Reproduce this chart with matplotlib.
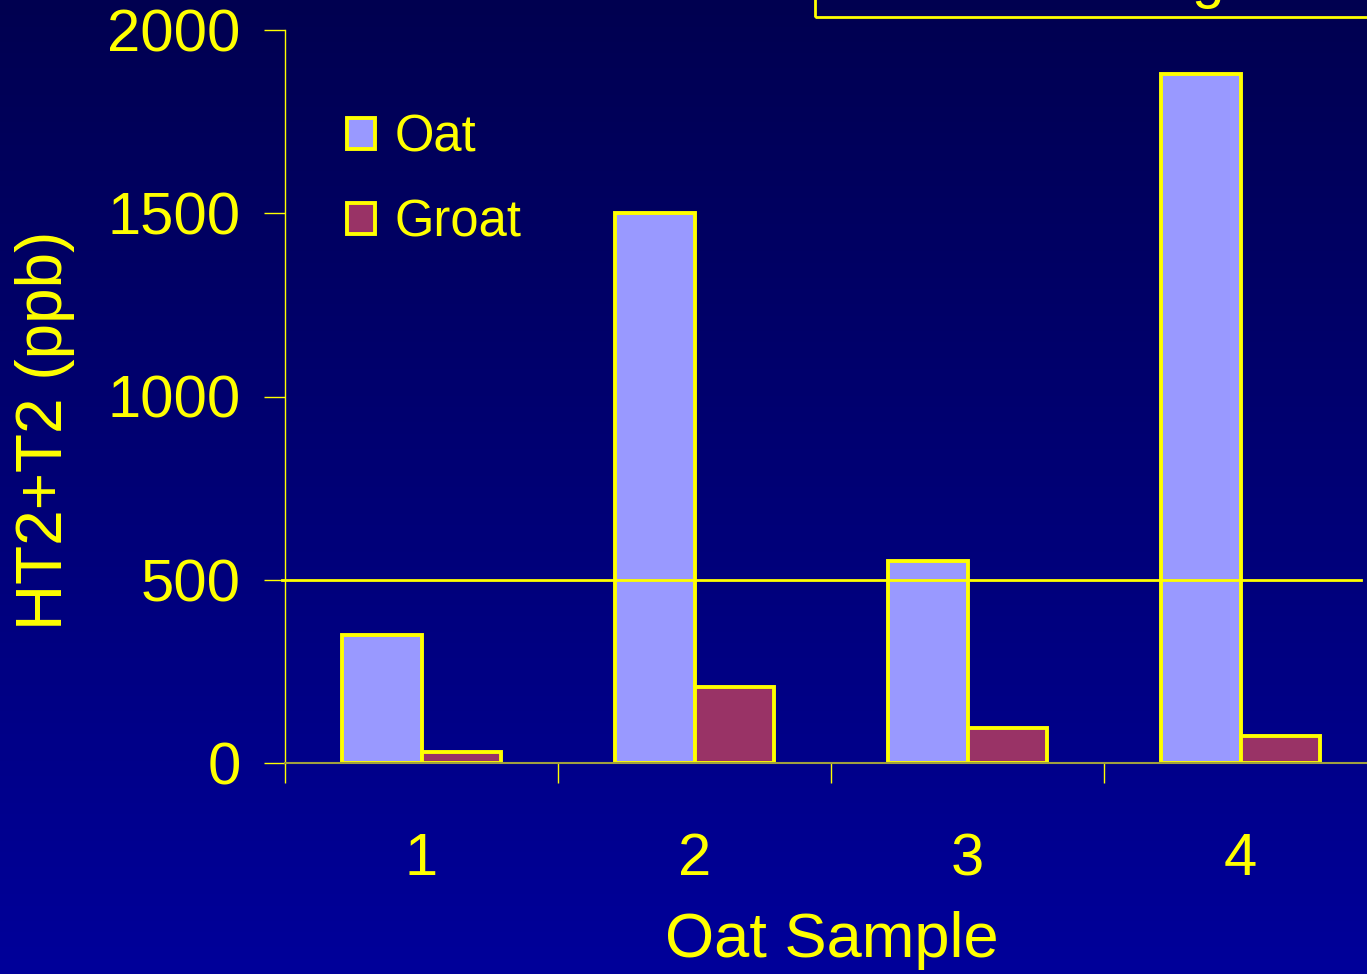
import numpy as np
import matplotlib
matplotlib.use("Agg")
import matplotlib.pyplot as plt
from matplotlib.patches import Patch, Rectangle

plt.rcParams['font.family'] = ['Liberation Sans', 'DejaVu Sans']

samples = ['1', '2', '3', '4']
oat = [350, 1500, 550, 1880]
groat = [30, 207, 95, 75]
limit = 500
yticks = [0, 500, 1000, 1500, 2000]

yellow = '#FFFF00'
oat_col = '#9999FF'
groat_col = '#993366'

fig = plt.figure(figsize=(13.67, 9.74), dpi=100)

# background gradient, dark navy at top to brighter blue at bottom
bg = fig.add_axes([0, 0, 1, 1], zorder=0)
grad = np.linspace(0, 1, 256).reshape(-1, 1)
top = np.array([0x00, 0x00, 0x50]) / 255
bot = np.array([0x00, 0x00, 0x9A]) / 255
img = top + (bot - top) * grad[:, :, None]
bg.imshow(img, aspect='auto', extent=[0, 1, 0, 1])
bg.axis('off')

# partly visible title box at the top right (only a descender shows)
fig.patches.append(Rectangle((815 / 1367, 1 - 17 / 974), 0.6, 0.1,
                             transform=fig.transFigure, facecolor='none',
                             edgecolor=yellow, linewidth=2, zorder=5))
fig.text(1224 / 1367, 1 + 3 / 974, 'g', color=yellow, fontsize=42,
         ha='right', va='baseline', zorder=5)

ax = fig.add_axes([285 / 1367, 211 / 974, 1092 / 1367, 733 / 974], zorder=1)
ax.patch.set_alpha(0)

x = np.arange(len(samples)) + 0.5
w = 0.29
ax.bar(x - w / 2, oat, width=w, color=oat_col, edgecolor=yellow, linewidth=2.8, zorder=3)
ax.bar(x + w / 2, groat, width=w, color=groat_col, edgecolor=yellow, linewidth=2.8, zorder=3)
ax.axhline(limit, xmin=-0.003, xmax=0.985, color=yellow, linewidth=2, zorder=4, clip_on=False)

ax.set_xlim(0, 4)
ax.set_ylim(0, 2000)
for s in ['top', 'right']:
    ax.spines[s].set_visible(False)
ax.spines['left'].set_color(yellow)
ax.spines['left'].set_linewidth(1)
ax.spines['bottom'].set_color('#A0A040')
ax.spines['bottom'].set_linewidth(1.5)
ax.spines['bottom'].set_zorder(5)

ax.set_yticks(yticks)
ax.set_yticklabels([str(v) for v in yticks])
ax.tick_params(axis='y', colors=yellow, labelsize=43, length=15, width=1, pad=17)
ax.set_xticks([0, 1, 2, 3, 4])
ax.set_xticklabels([])
ax.set_xticks(x, minor=True)
ax.set_xticklabels(samples, minor=True)
ax.tick_params(axis='x', which='major', colors=yellow, length=14.4, width=1)
ax.tick_params(axis='x', which='minor', length=0, labelsize=43, labelcolor=yellow, pad=50)

fig.text(832 / 1367, 1 - 941 / 974, 'Oat Sample', color=yellow, fontsize=45.5,
         ha='center', va='center')
fig.text(45 / 1367, 1 - 430 / 974, 'HT2+T2 (ppb)', color=yellow, fontsize=46,
         ha='center', va='center', rotation=90)

handles = [Patch(facecolor=oat_col, edgecolor=yellow, linewidth=2.8, label='Oat'),
           Patch(facecolor=groat_col, edgecolor=yellow, linewidth=2.8, label='Groat')]
leg = ax.legend(handles=handles, loc='upper left',
                bbox_to_anchor=(347 / 1367, 1 - 113 / 974), bbox_transform=fig.transFigure,
                frameon=False, fontsize=36.5, handlelength=0.56, handleheight=0.56,
                handletextpad=0.37, labelspacing=0.72, borderpad=0, borderaxespad=0)
for t in leg.get_texts():
    t.set_color(yellow)

fig.savefig('out.png', dpi=100)
